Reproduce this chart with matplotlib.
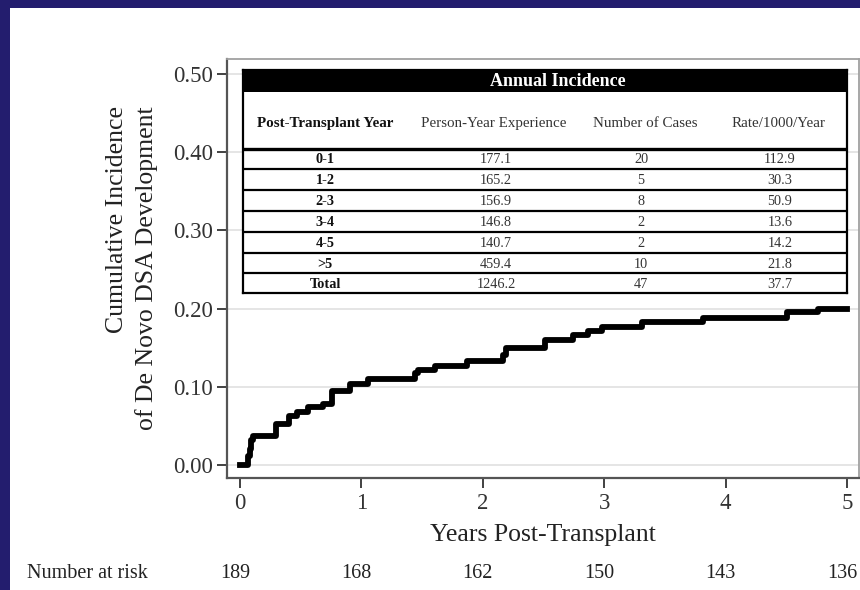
#!/usr/bin/env python3
"""
Cumulative incidence of de novo DSA development, with annual incidence table
and number-at-risk row underneath.
"""

import matplotlib
matplotlib.use('Agg')
import matplotlib.pyplot as plt
from matplotlib.patches import Rectangle
from matplotlib import transforms

# Cumulative incidence curve (step function)
years = [0.0, 0.063, 0.08, 0.09, 0.11, 0.30, 0.40, 0.47, 0.56, 0.68, 0.755,
         0.905, 1.055, 1.44, 1.47, 1.61, 1.87, 2.17, 2.19, 2.51, 2.74, 2.87,
         2.98, 3.31, 3.81, 4.51, 4.76, 5.0]
cum_incidence = [0.0, 0.011, 0.021, 0.032, 0.037, 0.053, 0.063, 0.068, 0.074,
                 0.078, 0.094, 0.104, 0.110, 0.117, 0.122, 0.127, 0.133, 0.141,
                 0.149, 0.160, 0.166, 0.171, 0.177, 0.183, 0.188, 0.195, 0.200,
                 0.200]

x_ticks = [0, 1, 2, 3, 4, 5]
y_ticks = [0.0, 0.1, 0.2, 0.3, 0.4, 0.5]
at_risk = [189, 168, 162, 150, 143, 136]

# Annual incidence table
table_title = 'Annual Incidence'
table_cols = ['Post-Transplant Year', 'Person-Year Experience',
              'Number of Cases', 'Rate/1000/Year']
period = ['0-1', '1-2', '2-3', '3-4', '4-5', '>5', 'Total']
person_years = ['177.1', '165.2', '156.9', '146.8', '140.7', '459.4', '1246.2']
n_cases = ['20', '5', '8', '2', '2', '10', '47']
rate = ['112.9', '30.3', '50.9', '13.6', '14.2', '21.8', '37.7']

W, H = 860, 590
NAVY = '#231D6E'
SERIF = ['Liberation Serif', 'DejaVu Serif']

plt.rcParams['font.family'] = SERIF


def fig_box(left, top, right, bottom):
    """Pixel box (from top-left) -> figure fraction rect."""
    return [left / W, 1 - bottom / H, (right - left) / W, (bottom - top) / H]


fig = plt.figure(figsize=(W / 100, H / 100), dpi=100)
fig.patch.set_facecolor(NAVY)
fig.add_artist(Rectangle((10 / W, 0), 1 - 10 / W, 1 - 8 / H,
                         transform=fig.transFigure, facecolor='white',
                         edgecolor='none', zorder=0))

# Main axes
ax = fig.add_axes(fig_box(227, 59, 859, 478))
ax.set_facecolor('white')
ax.step(years, cum_incidence, where='post', color='black', linewidth=4.2,
        zorder=3)
ax.set_xlim(-0.107, 5.099)
ax.set_ylim(-0.0166, 0.519)
ax.set_xticks(x_ticks)
ax.set_yticks(y_ticks)
ax.set_yticklabels([f'{v:.2f}' for v in y_ticks])
ax.grid(True, axis='y', color='#e0e0e0', linewidth=1.2, zorder=1)
ax.tick_params(axis='both', direction='out', length=7, width=1.3,
               color='#333333', labelcolor='#333333', labelsize=16.5)
ax.tick_params(axis='x', pad=4)
ax.tick_params(axis='y', pad=3)
for side in ['left', 'bottom']:
    ax.spines[side].set_color('#555555')
    ax.spines[side].set_linewidth(1.6)
for side in ['top', 'right']:
    ax.spines[side].set_color('#a0a0a0')
    ax.spines[side].set_linewidth(1.3)

ax.set_xlabel('Years Post-Transplant', fontsize=18.5, color='#222222',
              labelpad=7)
fig.text(132 / W, 1 - 268 / H,
         'Cumulative Incidence\nof De Novo DSA Development',
         rotation=90, ha='center', va='center', multialignment='right',
         fontsize=18.5, color='#222222', linespacing=1.4)

# Number at risk row
fig.text(27 / W, 1 - 573 / H, 'Number at risk', ha='left', va='center',
         fontsize=14.5, color='#222222')
risk_tr = transforms.blended_transform_factory(ax.transData, fig.transFigure)
risk_tr = risk_tr + transforms.ScaledTranslation(-5 / 100, 0,
                                                 fig.dpi_scale_trans)
for x, n in zip(x_ticks, at_risk):
    ax.text(x, 1 - 573 / H, str(n), transform=risk_tr, ha='center',
            va='center', fontsize=14.5, color='#222222', clip_on=False)

# Annual incidence table, drawn in pixel units inside its own axes
T_LEFT, T_TOP, T_RIGHT, T_BOTTOM = 243, 70, 847, 293
tax = fig.add_axes(fig_box(T_LEFT, T_TOP, T_RIGHT, T_BOTTOM), zorder=5)
tax.set_xlim(T_LEFT, T_RIGHT)
tax.set_ylim(T_BOTTOM, T_TOP)
tax.set_facecolor('white')
for s in tax.spines.values():
    s.set_color('black')
    s.set_linewidth(1.6)
tax.set_xticks([])
tax.set_yticks([])

tax.add_patch(Rectangle((T_LEFT, T_TOP), T_RIGHT - T_LEFT, 22,
                        facecolor='black', edgecolor='none'))
tax.text((T_LEFT + T_RIGHT) / 2 + 13, 81, table_title, color='white',
         fontsize=13, fontweight='bold', ha='center', va='center')

col_x = [325, 494, 645, 779]
data_x = [325, 496, 641, 780]
for i, (cx, name) in enumerate(zip(col_x, table_cols)):
    tax.text(cx, 123, name, ha='center', va='center', fontsize=10.8,
             fontweight='bold' if i == 0 else 'normal',
             color='#111111' if i == 0 else '#333333')

row_lines = [148.5, 169, 190, 211, 232, 253, 273.3]
tax.axhline(row_lines[0], color='black', linewidth=2.4)
for y in row_lines[1:]:
    tax.axhline(y, color='black', linewidth=1.6)

row_bounds = row_lines + [T_BOTTOM]
for r in range(len(period)):
    yc = (row_bounds[r] + row_bounds[r + 1]) / 2 + 1
    cells = [period[r], person_years[r], n_cases[r], rate[r]]
    for c, (cx, val) in enumerate(zip(data_x, cells)):
        tax.text(cx, yc, val, ha='center', va='center', fontsize=10.3,
                 fontweight='bold' if c == 0 else 'normal',
                 color='#111111' if c == 0 else '#333333')

plt.savefig('out.png', dpi=100, facecolor=fig.get_facecolor())
plt.close()
